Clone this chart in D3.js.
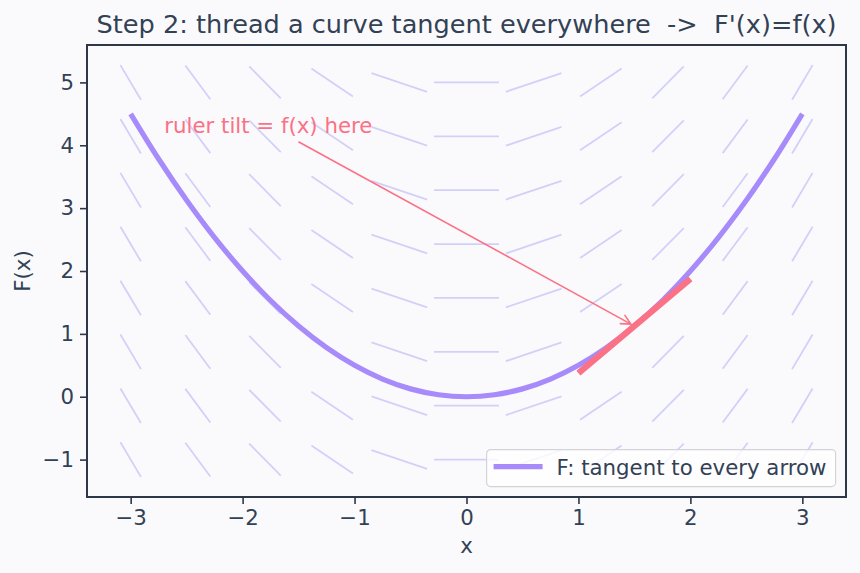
<!DOCTYPE html>
<html>
<head>
<meta charset="utf-8">
<script src="https://cdn.jsdelivr.net/npm/d3@7/dist/d3.min.js"></script>
<style>
  html, body { margin: 0; padding: 0; background: #fafafd; }
  svg { display: block; }
  text { font-family: "DejaVu Sans", sans-serif; white-space: pre; }
</style>
</head>
<body>
<svg id="chart" width="860" height="573"></svg>
<script>
// ---- data ----
const titleText = "Step 2: thread a curve tangent everywhere  ->  F'(x)=f(x)";
const xLabel = "x";
const yLabel = "F(x)";
const xTicks = [-3, -2, -1, 0, 1, 2, 3];
const yTicks = [-1, 0, 1, 2, 3, 4, 5];
// slope-field grid (columns x, rows y) and slope f(x) per column
const fieldX = [-3, -2.4, -1.8, -1.2, -0.6, 0, 0.6, 1.2, 1.8, 2.4, 3];
const fieldY = [-1, -0.143, 0.714, 1.571, 2.429, 3.286, 4.143, 5];
const fieldSlope = [-3, -2.4, -1.8, -1.2, -0.6, 0, 0.6, 1.2, 1.8, 2.4, 3];
const fieldHalfLen = 0.29;
// curve F(x)
const curveX = [-3, -2.75, -2.5, -2.25, -2, -1.75, -1.5, -1.25, -1, -0.75, -0.5, -0.25, 0,
                0.25, 0.5, 0.75, 1, 1.25, 1.5, 1.75, 2, 2.25, 2.5, 2.75, 3];
const curveF = [4.5, 3.781, 3.125, 2.531, 2, 1.531, 1.125, 0.781, 0.5, 0.281, 0.125, 0.031, 0,
                0.031, 0.125, 0.281, 0.5, 0.781, 1.125, 1.531, 2, 2.531, 3.125, 3.781, 4.5];
const legendLabel = "F: tangent to every arrow";
// tangent ruler at x0
const rulerX0 = 1.5, rulerF0 = 1.125, rulerSlope = 1.5, rulerHalf = 0.5;
// annotation
const annText = "ruler tilt = f(x) here";
const annTextPos = [-2.7, 4.2];
const annTarget = [1.5, 1.125];

// ---- layout ----
const W = 860, H = 573;
const L = 87, R = 846, T = 45, B = 497;
const textColor = "#334155";
const curveColor = "#a78bfa";
const fieldColor = "#7b6ff0";
const rose = "#fb7185";
const fs = 21.3;

const svg = d3.select("#chart");
svg.append("rect").attr("width", W).attr("height", H).attr("fill", "#fafafd");

const x = d3.scaleLinear().domain([-3.39, 3.39]).range([L, R]);
const y = d3.scaleLinear().domain([-1.595, 5.595]).range([B, T]);

const plot = svg.append("g");
plot.append("rect").attr("x", L).attr("y", T).attr("width", R - L).attr("height", B - T).attr("fill", "#fafafd");

// slope field
const segs = [];
fieldX.forEach((fx, i) => {
  const s = fieldSlope[i];
  const dx = fieldHalfLen / Math.sqrt(1 + s * s);
  fieldY.forEach(fy => segs.push({ x1: fx - dx, y1: fy - s * dx, x2: fx + dx, y2: fy + s * dx }));
});
plot.append("g").selectAll("line").data(segs).join("line")
  .attr("x1", d => x(d.x1)).attr("y1", d => y(d.y1))
  .attr("x2", d => x(d.x2)).attr("y2", d => y(d.y2))
  .attr("stroke", fieldColor).attr("stroke-opacity", 0.3).attr("stroke-width", 1.8);

// curve
const pts = curveX.map((v, i) => [v, curveF[i]]);
plot.append("path").datum(pts)
  .attr("d", d3.line().x(d => x(d[0])).y(d => y(d[1])).curve(d3.curveCatmullRom.alpha(0.5)))
  .attr("fill", "none").attr("stroke", curveColor).attr("stroke-width", 5.2)
  .attr("stroke-linecap", "butt");

// ruler
plot.append("line")
  .attr("x1", x(rulerX0 - rulerHalf)).attr("y1", y(rulerF0 - rulerSlope * rulerHalf))
  .attr("x2", x(rulerX0 + rulerHalf)).attr("y2", y(rulerF0 + rulerSlope * rulerHalf))
  .attr("stroke", rose).attr("stroke-width", 6.2).attr("stroke-linecap", "butt");

// annotation text
const at = plot.append("text").attr("x", x(annTextPos[0])).attr("y", y(annTextPos[1]))
  .attr("fill", rose).attr("font-size", fs).text(annText);
const bb = at.node().getBBox();
const cx = bb.x + bb.width / 2, cy = bb.y + bb.height / 2;
const tx = x(annTarget[0]), ty = y(annTarget[1]);
let ux = tx - cx, uy = ty - cy;
const len = Math.hypot(ux, uy); ux /= len; uy /= len;
// exit point from text box
const tExitX = (bb.width / 2 + 4) / Math.abs(ux), tExitY = (bb.height / 2 + 4) / Math.abs(uy);
const tExit = Math.min(tExitX, tExitY);
const sx = cx + ux * tExit, sy = cy + uy * tExit;
const ex = tx - ux * 4, ey = ty - uy * 4;
plot.append("line").attr("x1", sx).attr("y1", sy).attr("x2", ex).attr("y2", ey)
  .attr("stroke", rose).attr("stroke-width", 1.6);
const hl = 10, hw = 5;
const bx = ex - ux * hl, by = ey - uy * hl;
plot.append("path")
  .attr("d", `M${bx - uy * hw},${by + ux * hw} L${ex},${ey} L${bx + uy * hw},${by - ux * hw}`)
  .attr("fill", "none").attr("stroke", rose).attr("stroke-width", 1.6);

// frame
svg.append("rect").attr("x", L).attr("y", T).attr("width", R - L).attr("height", B - T)
  .attr("fill", "none").attr("stroke", "#2d3748").attr("stroke-width", 2);

// axes
const xAxis = svg.append("g").attr("transform", `translate(0,${B})`)
  .call(d3.axisBottom(x).tickValues(xTicks).tickSize(7).tickPadding(6)
    .tickFormat(d => d < 0 ? "\u2212" + Math.abs(d) : String(d)));
const yAxis = svg.append("g").attr("transform", `translate(${L},0)`)
  .call(d3.axisLeft(y).tickValues(yTicks).tickSize(7).tickPadding(6)
    .tickFormat(d => d < 0 ? "\u2212" + Math.abs(d) : String(d)));
[xAxis, yAxis].forEach(a => {
  a.select(".domain").remove();
  a.selectAll(".tick line").attr("stroke", "#2d3748").attr("stroke-width", 1.6);
  a.selectAll(".tick text").attr("fill", textColor).attr("font-size", fs)
    .attr("font-family", "DejaVu Sans, sans-serif");
});

// labels
svg.append("text").attr("x", (L + R) / 2).attr("y", 553).attr("text-anchor", "middle")
  .attr("fill", textColor).attr("font-size", fs).text(xLabel);
svg.append("text").attr("transform", `translate(30,${(T + B) / 2}) rotate(-90)`)
  .attr("text-anchor", "middle").attr("fill", textColor).attr("font-size", fs).text(yLabel);
svg.append("text").attr("x", (L + R) / 2).attr("y", 33).attr("text-anchor", "middle")
  .attr("fill", textColor).attr("font-size", 25.6).text(titleText);

// legend
const lgR = R - 10.4, lgB = B - 10.4, lgW = 349, lgH = 37;
const lg = svg.append("g").attr("transform", `translate(${lgR - lgW},${lgB - lgH})`);
lg.append("rect").attr("width", lgW).attr("height", lgH).attr("rx", 4)
  .attr("fill", "#ffffff").attr("fill-opacity", 0.8).attr("stroke", "#d4d4d8").attr("stroke-width", 1.2);
lg.append("line").attr("x1", 7).attr("x2", 56).attr("y1", 17).attr("y2", 17)
  .attr("stroke", curveColor).attr("stroke-width", 5.2);
lg.append("text").attr("x", 70).attr("y", 25).attr("fill", textColor).attr("font-size", fs).text(legendLabel);
</script>
</body>
</html>
